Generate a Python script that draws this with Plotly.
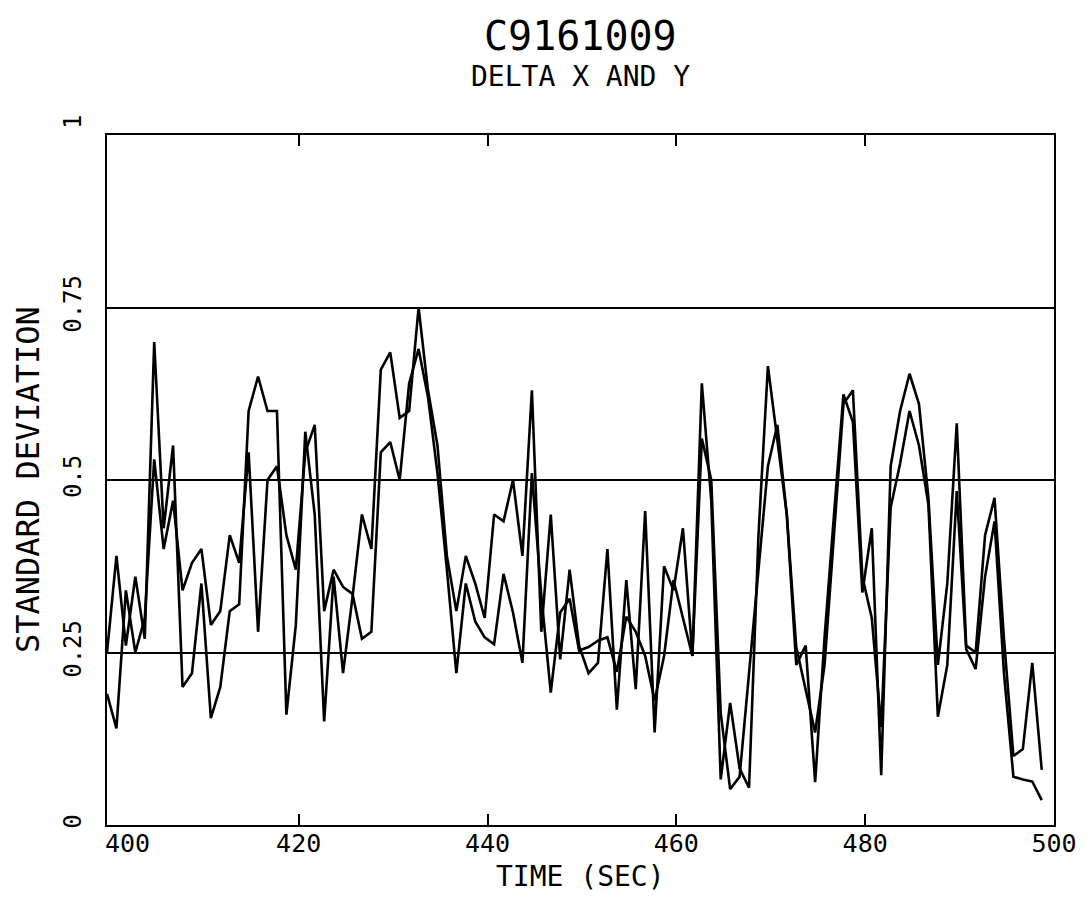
import plotly.graph_objects as go

# ---- data ----
time_sec = [399.7, 400.7, 401.7, 402.7, 403.7, 404.7, 405.7, 406.7, 407.7, 408.7,
            409.7, 410.7, 411.7, 412.7, 413.7, 414.7, 415.7, 416.7, 417.7, 418.7,
            419.7, 420.7, 421.7, 422.7, 423.7, 424.7, 425.7, 426.7, 427.7, 428.7,
            429.7, 430.7, 431.7, 432.7, 433.7, 434.7, 435.7, 436.7, 437.7, 438.7,
            439.7, 440.7, 441.7, 442.7, 443.7, 444.7, 445.7, 446.7, 447.7, 448.7,
            449.7, 450.7, 451.7, 452.7, 453.7, 454.7, 455.7, 456.7, 457.7, 458.7,
            459.7, 460.7, 461.7, 462.7, 463.7, 464.7, 465.7, 466.7, 467.7, 468.7,
            469.7, 470.7, 471.7, 472.7, 473.7, 474.7, 475.7, 476.7, 477.7, 478.7,
            479.7, 480.7, 481.7, 482.7, 483.7, 484.7, 485.7, 486.7, 487.7, 488.7,
            489.7, 490.7, 491.7, 492.7, 493.7, 494.7, 495.7, 496.7, 497.7, 498.7]

delta_x_sd = [0.25, 0.39, 0.26, 0.36, 0.27, 0.70, 0.43, 0.55, 0.20, 0.22,
              0.35, 0.155, 0.20, 0.31, 0.32, 0.60, 0.65, 0.60, 0.60, 0.16,
              0.29, 0.57, 0.45, 0.15, 0.36, 0.22, 0.33, 0.45, 0.40, 0.66,
              0.685, 0.59, 0.60, 0.75, 0.63, 0.55, 0.39, 0.31, 0.39, 0.35,
              0.30, 0.45, 0.44, 0.50, 0.39, 0.63, 0.28, 0.45, 0.24, 0.37,
              0.26, 0.22, 0.235, 0.40, 0.167, 0.355, 0.197, 0.455, 0.134, 0.375,
              0.34, 0.43, 0.245, 0.64, 0.47, 0.066, 0.177, 0.082, 0.054, 0.42,
              0.665, 0.56, 0.45, 0.232, 0.26, 0.062, 0.272, 0.45, 0.624, 0.584,
              0.337, 0.43, 0.072, 0.52, 0.60, 0.654, 0.61, 0.474, 0.232, 0.35,
              0.582, 0.26, 0.25, 0.42, 0.474, 0.27, 0.10, 0.11, 0.235, 0.08]

delta_y_sd = [0.19, 0.14, 0.34, 0.25, 0.30, 0.53, 0.40, 0.47, 0.34, 0.38,
              0.40, 0.29, 0.31, 0.42, 0.38, 0.54, 0.28, 0.50, 0.52, 0.42,
              0.37, 0.54, 0.58, 0.31, 0.37, 0.345, 0.335, 0.27, 0.28, 0.54,
              0.555, 0.50, 0.64, 0.69, 0.62, 0.51, 0.37, 0.22, 0.35, 0.295,
              0.272, 0.262, 0.364, 0.308, 0.235, 0.51, 0.333, 0.192, 0.308, 0.328,
              0.253, 0.258, 0.267, 0.272, 0.222, 0.302, 0.28, 0.245, 0.18, 0.245,
              0.355, 0.30, 0.245, 0.56, 0.50, 0.162, 0.052, 0.07, 0.222, 0.373,
              0.52, 0.58, 0.45, 0.258, 0.197, 0.134, 0.232, 0.42, 0.61, 0.63,
              0.36, 0.30, 0.142, 0.46, 0.524, 0.60, 0.55, 0.464, 0.157, 0.232,
              0.484, 0.255, 0.226, 0.36, 0.44, 0.22, 0.07, 0.066, 0.063, 0.036]

x_tick_vals = [420, 440, 460, 480, 500]
x_tick_text = ["420", "440", "460", "480", "500"]
first_x_label = "400"
y_tick_vals = [0, 0.25, 0.5, 0.75, 1]
y_tick_text = ["0", "0.25", "0.5", "0.75", ""]
top_y_label = "1"
x_range = [399.7, 500]
y_range = [0, 1]

title_text = "C9161009"
subtitle_text = "DELTA X AND Y"
x_title = "TIME (SEC)"
y_title = "STANDARD DEVIATION"

FONT = "DejaVu Sans Mono"
INK = "#000000"

fig = go.Figure()
for name, vals in [("DELTA X", delta_x_sd), ("DELTA Y", delta_y_sd)]:
    fig.add_trace(go.Scatter(x=time_sec, y=vals, mode="lines", name=name,
                             line=dict(color=INK, width=2.6), showlegend=False))

# page body has an 8px margin: size the figure so the page does not overflow
fig.update_layout(
    width=1081, height=885, autosize=False,
    paper_bgcolor="white", plot_bgcolor="white",
    margin=dict(l=99, r=26, t=127, b=68),
    font=dict(family=FONT, color=INK, size=24),
)

fig.update_xaxes(
    range=x_range, tickvals=x_tick_vals, ticktext=x_tick_text,
    showgrid=False, zeroline=False,
    showline=True, linecolor=INK, linewidth=2, mirror="ticks",
    ticks="inside", ticklen=11, tickwidth=2, tickcolor=INK,
    ticklabelstandoff=-5,
    tickfont=dict(family=FONT, size=25, color=INK),
)
fig.update_yaxes(
    range=y_range, tickvals=y_tick_vals, ticktext=y_tick_text,
    showgrid=True, gridcolor=INK, gridwidth=2, zeroline=False,
    showline=True, linecolor=INK, linewidth=2, mirror=True,
    ticks="", tickangle=-90, ticklabelstandoff=14,
    tickfont=dict(family=FONT, size=24, color=INK),
)

fig.add_annotation(text=first_x_label, x=x_range[0], y=0, xref="x", yref="paper",
                   xanchor="left", yanchor="top", yshift=-2, xshift=-4, showarrow=False,
                   font=dict(family=FONT, size=25, color=INK))
fig.add_annotation(text=top_y_label, x=0, y=y_range[1], xref="paper", yref="y",
                   xanchor="center", yanchor="middle", xshift=-34, yshift=13,
                   textangle=-90, showarrow=False,
                   font=dict(family=FONT, size=24, color=INK))
fig.add_annotation(text=title_text, x=0.5, y=1, xref="paper", yref="paper",
                   xanchor="center", yanchor="middle", yshift=99, showarrow=False,
                   font=dict(family=FONT, size=40, color=INK))
fig.add_annotation(text=subtitle_text, x=0.5, y=1, xref="paper", yref="paper",
                   xanchor="center", yanchor="middle", yshift=59, showarrow=False,
                   font=dict(family=FONT, size=28, color=INK))
fig.add_annotation(text=x_title, x=0.5, y=0, xref="paper", yref="paper",
                   xanchor="center", yanchor="middle", yshift=-51, showarrow=False,
                   font=dict(family=FONT, size=28, color=INK))
fig.add_annotation(text=y_title, x=0, y=0.5, xref="paper", yref="paper",
                   xanchor="center", yanchor="middle", xshift=-79, textangle=-90,
                   showarrow=False, font=dict(family=FONT, size=32, color=INK))

fig.write_html("out.html")
